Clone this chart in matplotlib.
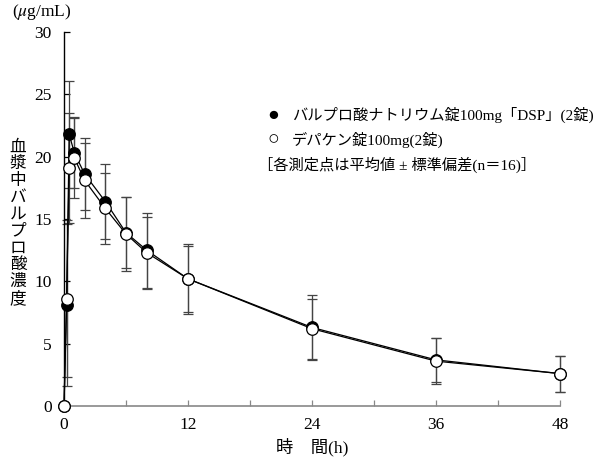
import matplotlib.pyplot as plt

plt.rcParams['font.family'] = ['Liberation Serif', 'Noto Sans CJK JP']
plt.rcParams['mathtext.fontset'] = 'stix'

# time points (h)
hours = [0, 0.25, 0.5, 1, 2, 4, 6, 8, 12, 24, 36, 48]

# バルプロ酸ナトリウム錠100mg「DSP」 (filled)
dsp_mean = [0, 8.1, 21.8, 20.3, 18.6, 16.4, 13.9, 12.5, 10.2, 6.3, 3.7, 2.6]
dsp_sd = [0, 6.5, 4.3, 2.85, 2.9, 3.0, 2.85, 3.0, 2.8, 2.6, 1.75, 1.45]

# デパケン錠100mg (open)
dep_mean = [0, 8.6, 19.1, 19.9, 18.1, 15.85, 13.8, 12.3, 10.2, 6.2, 3.6, 2.6]
dep_sd = [0, 6.3, 4.4, 3.2, 3.0, 2.85, 3.0, 2.9, 2.65, 2.4, 1.85, 1.45]

x_major = [0, 12, 24, 36, 48]
x_minor = [6, 18, 30, 42]
y_ticks = [0, 5, 10, 15, 20, 25, 30]

fig = plt.figure(figsize=(6, 4.62), dpi=100)
ax = fig.add_axes([0.1067, 0.1212, 0.8266, 0.8095])

ax.errorbar(hours, dsp_mean, yerr=dsp_sd, fmt='none', ecolor='#444444',
            elinewidth=0.9, capsize=3.3, capthick=0.9, clip_on=False, zorder=2)
ax.errorbar(hours, dep_mean, yerr=dep_sd, fmt='none', ecolor='#444444',
            elinewidth=0.9, capsize=3.3, capthick=0.9, clip_on=False, zorder=2)
ax.plot(hours, dsp_mean, '-o', color='black', lw=0.9, ms=8.3,
        mfc='black', mec='black', mew=0.9, clip_on=False, zorder=3)
ax.plot(hours, dep_mean, '-o', color='black', lw=0.9, ms=8.3,
        mfc='white', mec='black', mew=0.9, clip_on=False, zorder=4)

ax.set_xlim(0, 48)
ax.set_ylim(0, 30)
ax.set_xticks(x_major)
ax.set_xticks(x_minor, minor=True)
ax.set_yticks(y_ticks)
ax.tick_params(axis='both', which='both', direction='in', length=4,
               width=0.9, labelsize=12.5)
ax.tick_params(axis='x', which='both', color='#888888', pad=8)
ax.tick_params(axis='y', pad=9)
for s in ['top', 'right']:
    ax.spines[s].set_visible(False)
ax.spines['left'].set_linewidth(1.0)
ax.spines['bottom'].set_color('#888888')
ax.spines['bottom'].set_linewidth(1.2)

fig.text(0.02, 0.974, '($\\mu$g/mL)', fontsize=12.5, va='center', ha='left')
fig.text(0.03, 0.517, '\n'.join('血漿中バルプロ酸濃度'), fontsize=12,
         ha='center', va='center', linespacing=1.07)
fig.text(0.52, 0.033, '時　間(h)', fontsize=12.5, ha='center', va='center')

fig.text(0.455, 0.751, '●', fontsize=14, ha='center', va='center')
fig.text(0.487, 0.751, 'バルプロ酸ナトリウム錠100mg「DSP」(2錠)', fontsize=11,
         ha='left', va='center')
fig.text(0.455, 0.697, '○', fontsize=14, ha='center', va='center')
fig.text(0.487, 0.697, 'デパケン錠100mg(2錠)', fontsize=11, ha='left', va='center')
fig.text(0.43, 0.643, '［各測定点は平均値 ± 標準偏差(n＝16)］', fontsize=11,
         ha='left', va='center')

fig.savefig('out.png', dpi=100)
